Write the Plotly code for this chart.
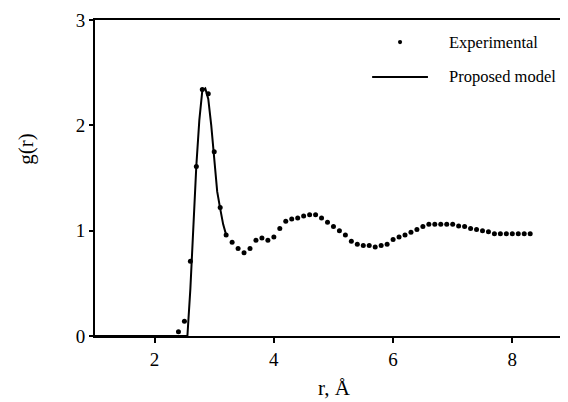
import plotly.graph_objects as go

# Experimental pair distribution function, sampled every 0.1 Å
r_exp = [round(2.4 + 0.1 * i, 1) for i in range(60)]
g_exp = [0.04, 0.14, 0.71, 1.61, 2.34, 2.30, 1.75, 1.22, 0.96, 0.89,
         0.83, 0.79, 0.83, 0.91, 0.93, 0.91, 0.94, 1.02, 1.09, 1.11,
         1.12, 1.14, 1.15, 1.15, 1.12, 1.08, 1.04, 1.00, 0.96, 0.90,
         0.87, 0.86, 0.86, 0.845, 0.86, 0.87, 0.915, 0.94, 0.96, 0.985,
         1.01, 1.04, 1.06, 1.06, 1.06, 1.06, 1.06, 1.045, 1.04, 1.02,
         1.01, 1.00, 0.99, 0.97, 0.97, 0.97, 0.97, 0.97, 0.97, 0.97]

# Proposed model curve (first coordination peak)
r_model = [1.0, 2.55, 2.6, 2.65, 2.7, 2.75, 2.8, 2.85, 2.9, 2.95,
           3.0, 3.05, 3.1, 3.15, 3.2]
g_model = [0.0, 0.0, 0.45, 1.05, 1.62, 2.05, 2.33, 2.35, 2.25, 2.00,
           1.72, 1.37, 1.21, 1.06, 0.96]

x_ticks = [2, 4, 6, 8]
y_ticks = [0, 1, 2, 3]

FONT = '"Liberation Serif", "Times New Roman", serif'

fig = go.Figure()
fig.add_trace(go.Scatter(x=r_model, y=g_model, mode="lines",
                         line=dict(color="black", width=2),
                         showlegend=False, name="Proposed model"))
fig.add_trace(go.Scatter(x=r_exp, y=g_exp, mode="markers",
                         marker=dict(color="black", size=5),
                         showlegend=False, name="Experimental"))

# hand-built legend
fig.add_shape(type="circle", xref="paper", yref="paper",
              x0=0.656 - 0.0045, x1=0.656 + 0.0045,
              y0=0.930 - 0.0066, y1=0.930 + 0.0066,
              fillcolor="black", line=dict(width=0))
fig.add_shape(type="line", xref="paper", yref="paper",
              x0=0.596, x1=0.716, y0=0.820, y1=0.820,
              line=dict(color="black", width=2))
fig.add_annotation(text="Experimental", xref="paper", yref="paper",
                   x=0.757, y=0.930, xanchor="left", yanchor="middle",
                   showarrow=False, font=dict(family=FONT, size=16.5, color="black"))
fig.add_annotation(text="Proposed model", xref="paper", yref="paper",
                   x=0.757, y=0.820, xanchor="left", yanchor="middle",
                   showarrow=False, font=dict(family=FONT, size=16.5, color="black"))

# axis titles
fig.add_annotation(text="g(r)", xref="paper", yref="paper",
                   x=-0.15, y=0.59, xanchor="center", yanchor="middle",
                   textangle=-90, showarrow=False,
                   font=dict(family=FONT, size=21, color="black"))
fig.add_annotation(text="r, Å", xref="paper", yref="paper",
                   x=0.516, y=-0.163, xanchor="center", yanchor="middle",
                   showarrow=False,
                   font=dict(family=FONT, size=21, color="black"))

fig.update_layout(
    width=568, height=402,
    margin=dict(l=95, r=8, t=20, b=66),
    paper_bgcolor="white", plot_bgcolor="white",
    font=dict(family=FONT, size=19, color="black"),
    xaxis=dict(range=[1, 8.8], tickvals=x_ticks, ticks="outside",
               ticklen=5, tickwidth=2, tickcolor="black",
               showline=True, linecolor="black", linewidth=2, mirror=True,
               showgrid=False, zeroline=False, automargin=False),
    yaxis=dict(range=[0, 3], tickvals=y_ticks, ticks="outside",
               ticklen=4, tickwidth=2, tickcolor="black",
               showline=True, linecolor="black", linewidth=2,
               showgrid=False, zeroline=False, automargin=False),
)

fig.write_html("out.html")
